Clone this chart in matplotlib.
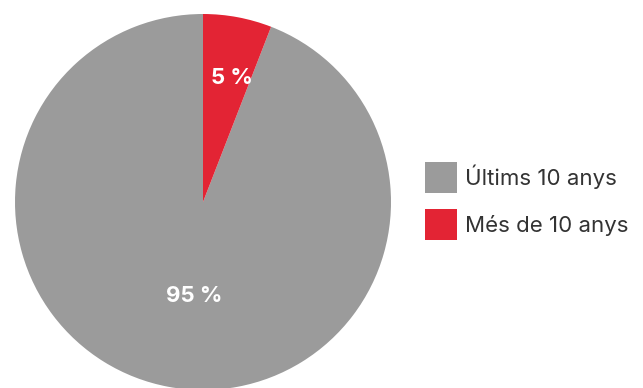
import numpy as np
import matplotlib
matplotlib.use("Agg")
import matplotlib.pyplot as plt

categories = ["Últims 10 anys", "Més de 10 anys"]
shares = [94.1, 5.9]
pct_labels = ["95 %", "5 %"]
colors = ["#9b9b9b", "#e32434"]

plt.rcParams['font.family'] = ['Inter', 'DejaVu Sans']

fig = plt.figure(figsize=(6.43, 3.88), dpi=100)
ax = fig.add_axes([15/643, -2/388, 376/643, 376/388])
wedges, _ = ax.pie(shares, colors=colors, startangle=90, counterclock=True,
                   radius=1, wedgeprops=dict(linewidth=0))
ax.set_xlim(-1, 1)
ax.set_ylim(-1, 1)
ax.set_aspect('equal')

radii = [0.51, 0.67]
x_shift = [0.045, 0.03]
for w, lab, r, dx in zip(wedges, pct_labels, radii, x_shift):
    ang = np.deg2rad((w.theta1 + w.theta2) / 2)
    ax.text(r*np.cos(ang) + dx, r*np.sin(ang), lab, ha='center', va='center',
            color='white', fontsize=16, fontweight='bold')

leg = fig.legend(wedges, categories, loc='center left',
                 bbox_to_anchor=(405/643, 1 - 201/388), frameon=False,
                 fontsize=16, handlelength=1.45, handleheight=1.75,
                 handletextpad=0.35, labelspacing=0.72, labelcolor='#333333')

fig.savefig("out.png", dpi=100)
